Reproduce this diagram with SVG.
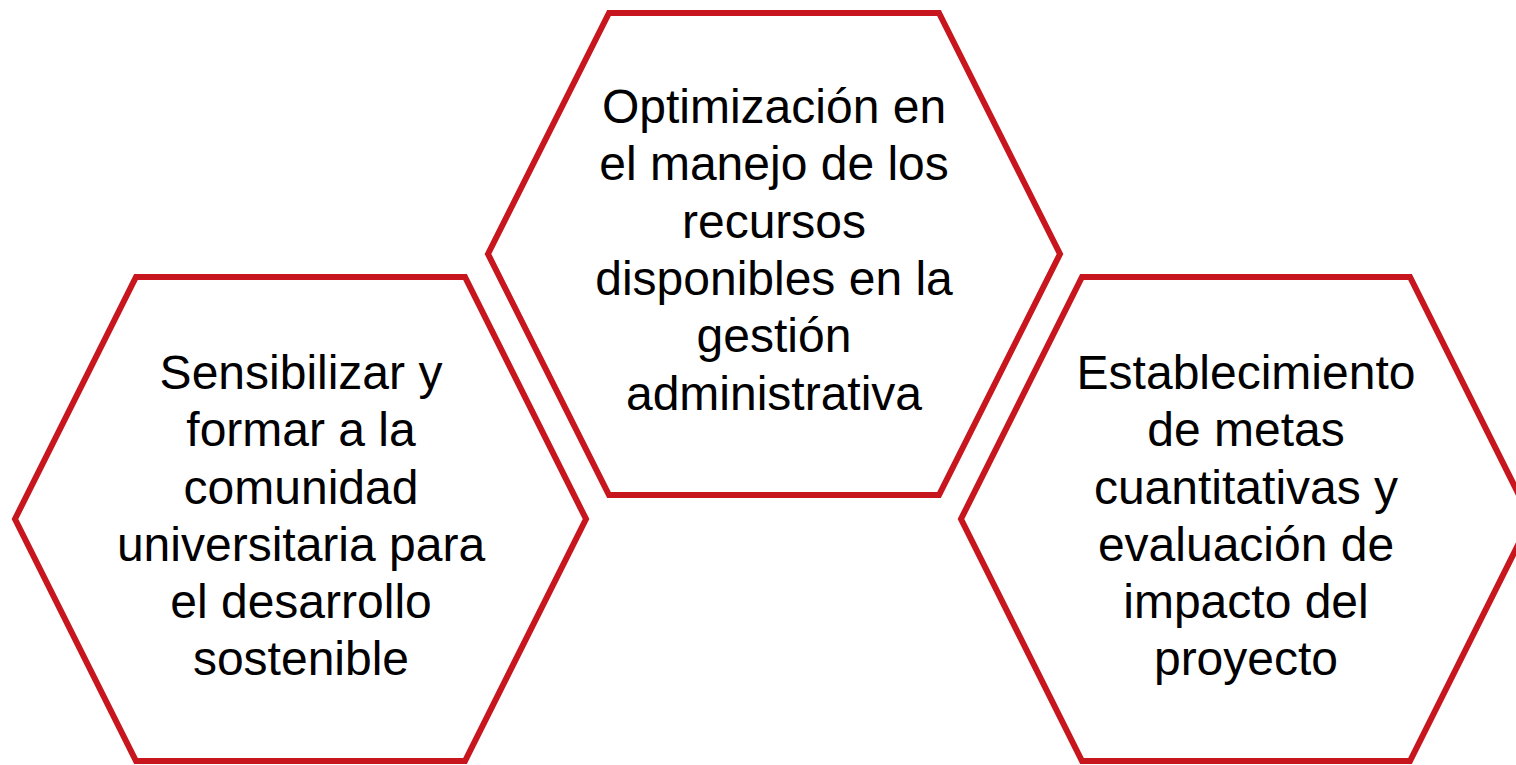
<svg xmlns="http://www.w3.org/2000/svg" width="1516" height="765" viewBox="0 0 1516 765">
<style>
.hex{fill:#FFFFFF;stroke:#C8161E;stroke-width:6;stroke-linejoin:miter}
.t{font-family:"Liberation Sans",Arial,sans-serif;font-size:48px;fill:#000000;text-anchor:middle}
</style>
<rect width="1516" height="765" fill="#FFFFFF"/>
<g id="connectors"></g>
<g id="node-left">
<polygon class="hex" points="136,277 465,277 586,519 465,761 136,761 15,519"/>
<text class="t" x="301" y="389">Sensibilizar y</text>
<text class="t" x="301" y="446">formar a la</text>
<text class="t" x="301" y="504">comunidad</text>
<text class="t" x="301" y="561">universitaria para</text>
<text class="t" x="301" y="618">el desarrollo</text>
<text class="t" x="301" y="675">sostenible</text>
</g>
<g id="node-middle">
<polygon class="hex" points="609,13 939,13 1060,254 939,495 609,495 488,254"/>
<text class="t" x="774" y="123">Optimización en</text>
<text class="t" x="774" y="180">el manejo de los</text>
<text class="t" x="774" y="238">recursos</text>
<text class="t" x="774" y="295">disponibles en la</text>
<text class="t" x="774" y="352">gestión</text>
<text class="t" x="774" y="410">administrativa</text>
</g>
<g id="node-right">
<polygon class="hex" points="1082,277 1410,277 1531,519 1410,761 1082,761 961,519"/>
<text class="t" x="1246" y="389">Establecimiento</text>
<text class="t" x="1246" y="446">de metas</text>
<text class="t" x="1246" y="504">cuantitativas y</text>
<text class="t" x="1246" y="561">evaluación de</text>
<text class="t" x="1246" y="618">impacto del</text>
<text class="t" x="1246" y="675">proyecto</text>
</g>
</svg>
